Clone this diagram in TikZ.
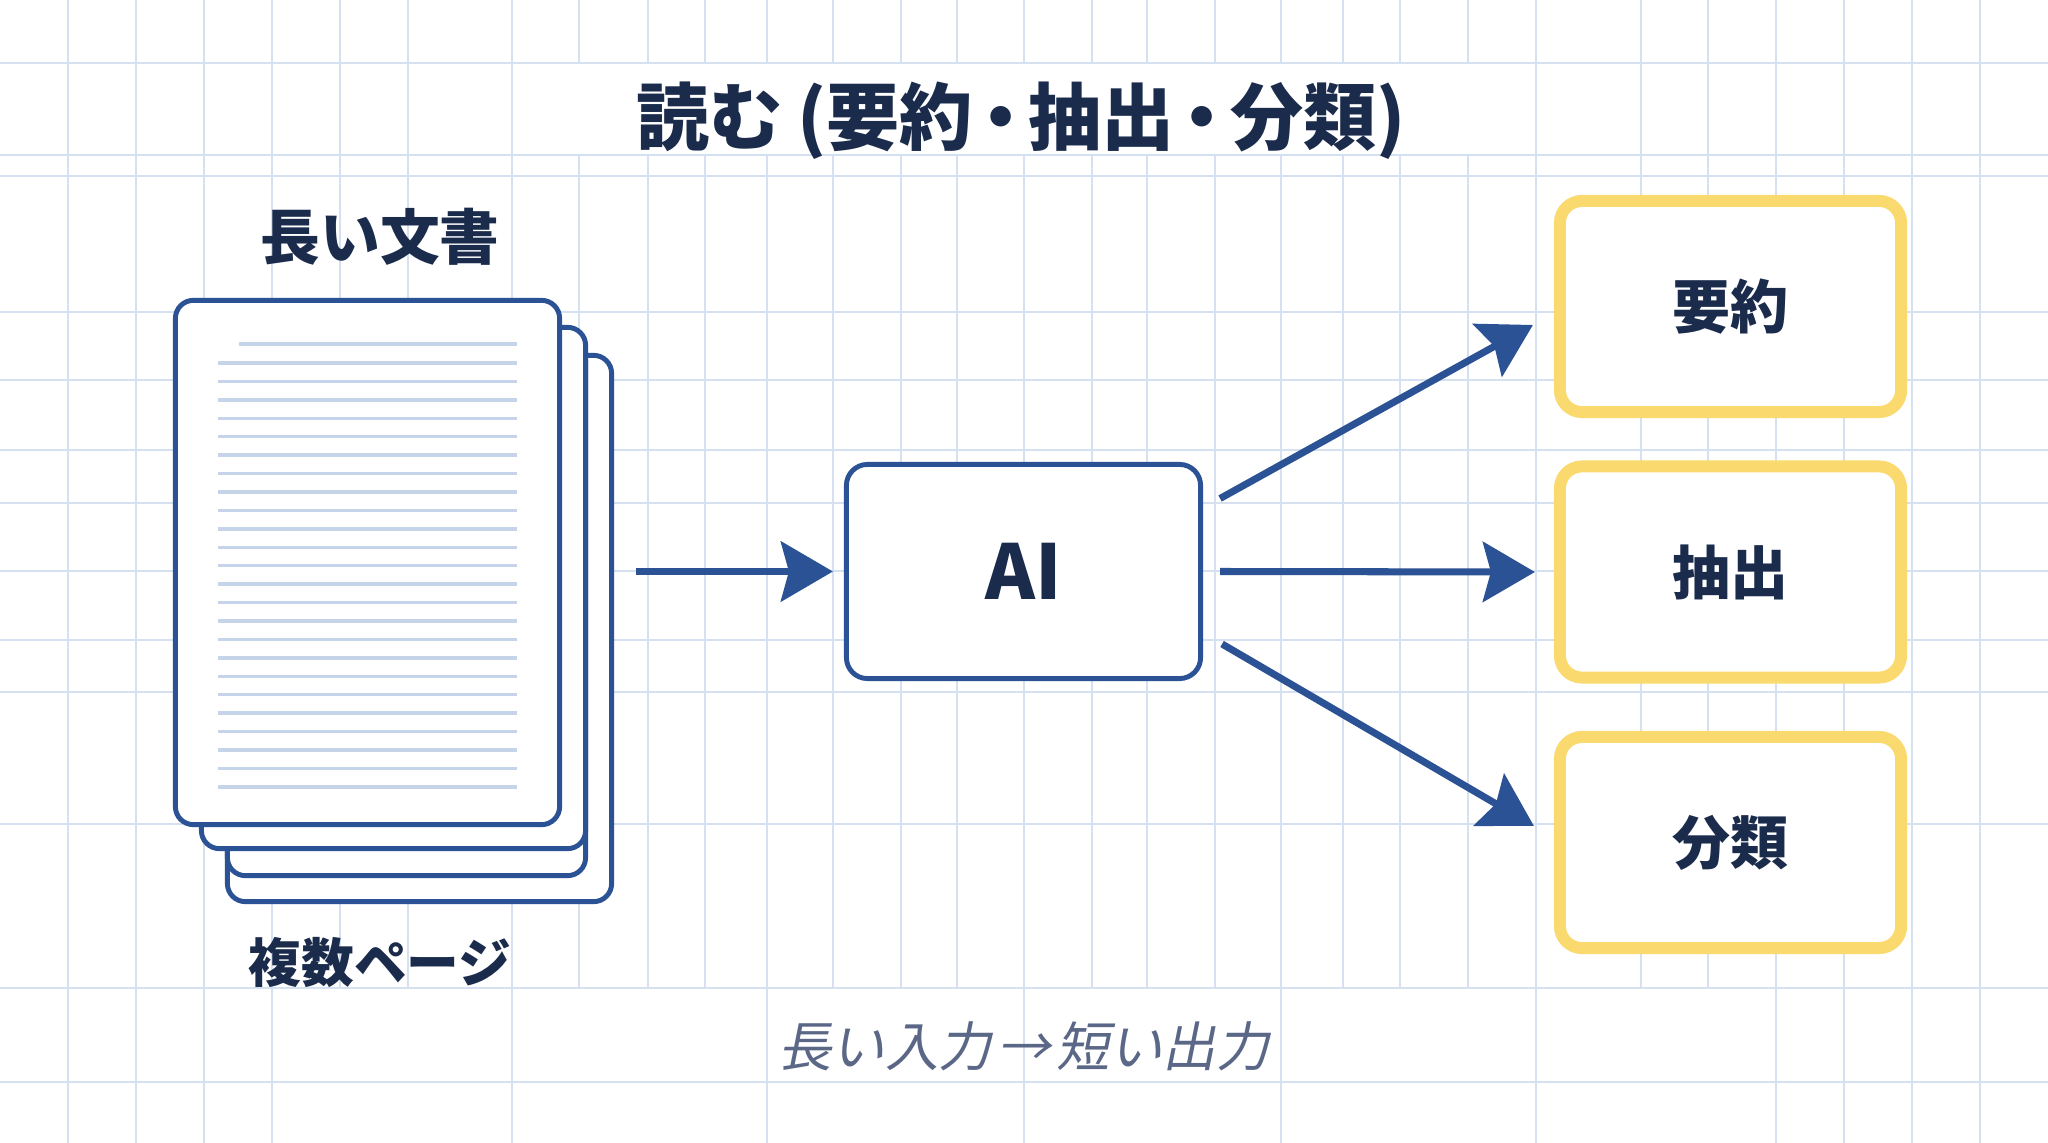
\documentclass[tikz,border=0pt]{standalone}
\usepackage{fontspec}
\setmainfont{Noto Sans CJK JP}
\newfontfamily\jpslant[FakeSlant=0.2]{Noto Sans CJK JP}
\usetikzlibrary{arrows.meta,positioning,calc}
\definecolor{cGrid}{HTML}{D5E1F1}
\definecolor{cNavy}{HTML}{2B5294}
\definecolor{cInk}{HTML}{1A2B4C}
\definecolor{cGold}{HTML}{FAD96E}
\definecolor{cRule}{HTML}{C6D4EA}
\definecolor{cNote}{HTML}{5B6786}
\newcommand{\ndot}{\kern-0.12em・\kern-0.12em}
\tikzset{
  gline/.style  ={draw=cGrid, line width=0.6pt},
  page/.style   ={rectangle, rounded corners=1.8mm, draw=cNavy, line width=1.4pt,
                  fill=white, inner sep=0pt},
  txtline/.style={draw=cRule, line width=1pt},
  ttl/.style    ={font=\bfseries\fontsize{20.8}{24}\selectfont, text=cInk},
  lbl/.style    ={font=\bfseries\fontsize{17}{20}\selectfont, text=cInk},
  core/.style   ={rectangle, rounded corners=2.1mm, draw=cNavy, line width=1.4pt, fill=white,
                  minimum width=35.4mm, minimum height=21.4mm,
                  font=\bfseries\fontsize{21.5}{24}\selectfont, text=cInk},
  outbox/.style ={rectangle, rounded corners=2.2mm, draw=cGold, line width=3.4pt, fill=white,
                  minimum width=34.1mm, minimum height=21.1mm,
                  font=\bfseries\fontsize{16.5}{20}\selectfont, text=cInk},
  flow/.style   ={-{Stealth[length=5.2mm,width=6mm,inset=0.8mm]}, draw=cNavy, line width=2pt},
  note/.style   ={font=\jpslant\fontsize{15.2}{18}\selectfont, text=cNote},
}
\begin{document}
\begin{tikzpicture}[x=0.01cm, y=-0.01cm]
  \useasboundingbox (0,0) rectangle (2048,1143);
  \fill[white] (0,0) rectangle (2048,1143);
  \foreach \y in {63,155,176,312,380,450,503,571,640,692,824,988,1082}
    \draw[gline] (0,\y) -- (2048,\y);
  \foreach \x in {68,136,204,272,512,767,1024,1281,1536,1776,1844,1912,1980}
    \draw[gline] (\x,0) -- (\x,1143);
  \foreach \x in {340,408,579,648,705,833,901,957,1092,1147,1215,1343,1400,1468,1641,1708}
    \draw[gline] (\x,0) -- (\x,988);
  \fill[white] (513,64) rectangle (1535,154);

  \node[ttl] (title) at (1021,121) {読む\kern0.2em(要約\ndot 抽出\ndot 分類)};

  \node[page, minimum width=3.84cm, minimum height=5.46cm] (pgD) at (419.5,628.5) {};
  \node[page, minimum width=3.58cm, minimum height=5.33cm] (pgC) at (406.5,609) {};
  \node[page, minimum width=3.84cm, minimum height=5.21cm] (pgB) at (393.5,588) {};
  \node[page, minimum width=3.84cm, minimum height=5.24cm] (pgA) at (367.5,562.5) {};
  \draw[txtline] (239,344) -- (517,344);
  \foreach \k in {0,...,23}
    \draw[txtline] (218,{363+18.43*\k}) -- (517,{363+18.43*\k});
  \node[lbl] (head) at (380,237) {長い文書};
  \node[lbl, font=\bfseries\fontsize{15}{18}\selectfont] (pages) at (380,963) {複数ページ};

  \node[core] (ai) at (1023.5,571.5) {AI};
  \node[outbox] (sum) at (1730.5,306.5) {要約};
  \node[outbox] (ext) at (1730.5,572) {抽出};
  \node[outbox] (cls) at (1730.5,842.5) {分類};

  \draw[flow] ($(pgD.east |- ai.west)+(22,0)$) -- ($(ai.west)+(-11,0)$);
  \draw[flow] ($(ai.east)+(17,-73)$) -- ($(sum.west)+(-21,18.5)$);
  \draw[flow] ($(ai.east)+(17,0)$) -- ($(ext.west)+(-19,0)$);
  \draw[flow] ($(ai.east)+(19,72.5)$) -- ($(cls.west)+(-20,-16.5)$);

  \node[note] (io) at (1024,1046) {長い入力\kern0.1em→\kern0.1em 短い出力};
\end{tikzpicture}
\end{document}
